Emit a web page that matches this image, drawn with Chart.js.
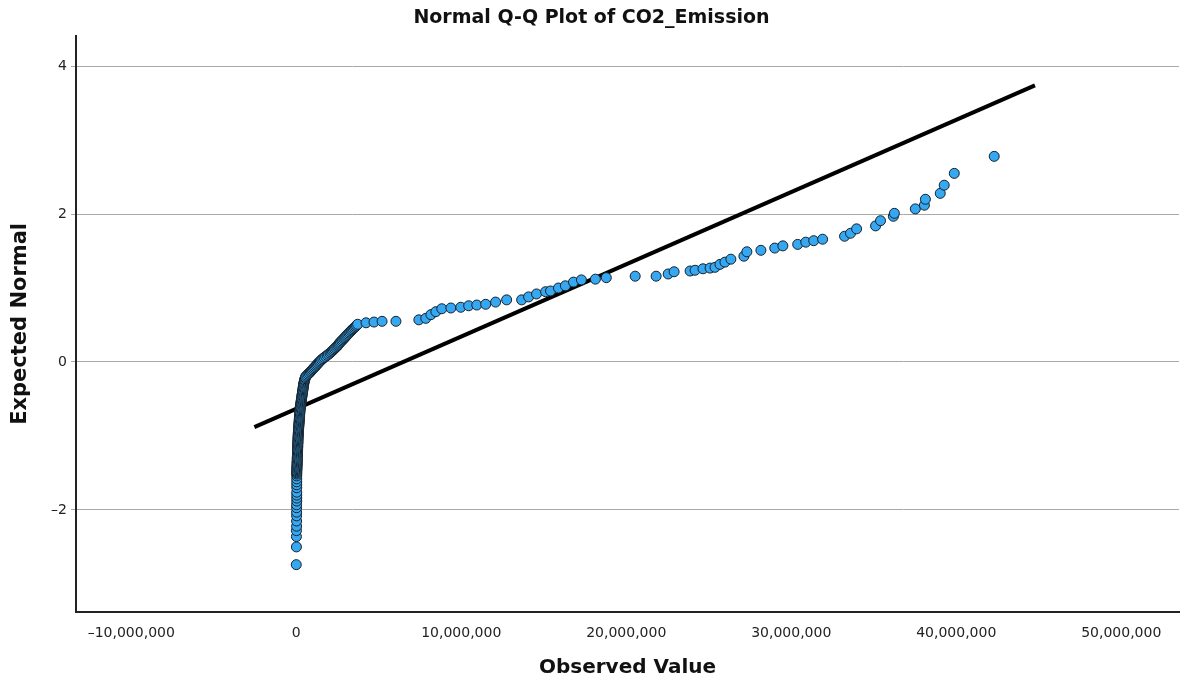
<!DOCTYPE html>
<html>
<head>
<meta charset="utf-8">
<title>Normal Q-Q Plot of CO2_Emission</title>
<script src="https://cdn.jsdelivr.net/npm/chart.js@4.4.1/dist/chart.umd.min.js"></script>
<style>
  html, body { margin: 0; padding: 0; background: #fff; }
  #wrap { width: 1185px; height: 686px; }
</style>
</head>
<body>
<div id="wrap"><canvas id="qqChart" width="1185" height="686"></canvas></div>
<script>
// observed CO2 emission, in millions
const observedM = [
  // lowest points, spread out
  0.00, 0.01, 0.01, 0.01, 0.02, 0.02, 0.02, 0.02, 0.02, 0.02,
  0.03, 0.03, 0.03, 0.03, 0.03, 0.03, 0.03, 0.03, 0.03,
  // dense column near zero
  0.03, 0.03, 0.03, 0.03, 0.04, 0.04, 0.04, 0.04, 0.05, 0.05,
  0.05, 0.05, 0.06, 0.06, 0.06, 0.06, 0.07, 0.07, 0.07, 0.07,
  0.08, 0.08, 0.08, 0.08, 0.09, 0.09, 0.09, 0.09, 0.10, 0.10,
  0.10, 0.10, 0.11, 0.11, 0.11, 0.12, 0.12, 0.12, 0.13, 0.13,
  0.14, 0.14, 0.15, 0.15, 0.16, 0.16, 0.17, 0.17, 0.18, 0.18,
  0.19, 0.19, 0.20, 0.20, 0.21, 0.21, 0.22, 0.22, 0.23, 0.24,
  0.24, 0.25, 0.26, 0.27, 0.28, 0.29, 0.30, 0.31, 0.32, 0.33,
  0.34, 0.35, 0.36, 0.37, 0.38, 0.39, 0.40, 0.41, 0.42, 0.43,
  0.44, 0.45, 0.46, 0.48, 0.49, 0.51, 0.53, 0.55, 0.58,
  // bend
  0.64, 0.71, 0.78, 0.85, 0.91, 0.97, 1.03, 1.09, 1.15, 1.21,
  1.27, 1.33, 1.40, 1.46, 1.53, 1.61, 1.69, 1.78, 1.87, 1.95,
  2.04, 2.11, 2.18, 2.25, 2.32, 2.39, 2.46, 2.52, 2.57, 2.62,
  2.68, 2.75, 2.81, 2.88, 2.94, 3.00, 3.06, 3.12, 3.19, 3.25,
  3.32, 3.38, 3.45, 3.52, 3.59, 3.65, 3.72,
  // upper tail
  4.23, 4.71, 5.20, 6.04, 7.43, 7.85, 8.16, 8.46, 8.82, 9.37,
  9.97, 10.45, 10.94, 11.48, 12.08, 12.75, 13.66, 14.08, 14.56, 15.11,
  15.41, 15.89, 16.31, 16.80, 17.28, 18.13, 18.79,
  20.54, 21.81, 22.54, 22.90, 23.87, 24.17, 24.65, 25.08, 25.38, 25.68,
  25.98, 26.34, 27.13, 27.31, 28.16, 29.00, 29.49, 30.39, 30.88, 31.36,
  31.90, 33.23, 33.59, 33.96, 35.11, 35.41, 36.19, 36.25, 37.52, 38.07,
  38.13, 39.03, 39.27, 39.88, 42.30
];

// expected normal quantiles
const expected = [
  -2.74, -2.50, -2.36, -2.28, -2.22, -2.15, -2.08, -2.03, -1.97, -1.93,
  -1.88, -1.84, -1.80, -1.76, -1.70, -1.66, -1.62, -1.58, -1.54,
  -1.515, -1.500, -1.485, -1.470, -1.455, -1.440, -1.425, -1.410, -1.395, -1.380,
  -1.365, -1.350, -1.335, -1.320, -1.305, -1.290, -1.275, -1.260, -1.245, -1.230,
  -1.215, -1.200, -1.185, -1.170, -1.155, -1.140, -1.125, -1.110, -1.095, -1.080,
  -1.065, -1.050, -1.035, -1.020, -1.005, -0.990, -0.975, -0.960, -0.945, -0.930,
  -0.915, -0.900, -0.885, -0.870, -0.855, -0.840, -0.825, -0.810, -0.795, -0.780,
  -0.765, -0.750, -0.735, -0.720, -0.705, -0.690, -0.675, -0.660, -0.645, -0.630,
  -0.615, -0.600, -0.585, -0.570, -0.555, -0.540, -0.525, -0.510, -0.495, -0.480,
  -0.465, -0.450, -0.435, -0.420, -0.405, -0.390, -0.375, -0.360, -0.345, -0.330,
  -0.315, -0.300, -0.285, -0.270, -0.255, -0.240, -0.225, -0.210, -0.195,
  -0.180, -0.165, -0.150, -0.135, -0.120, -0.105, -0.090, -0.075, -0.060, -0.045,
  -0.030, -0.015, 0.000, 0.015, 0.030, 0.045, 0.060, 0.075, 0.090, 0.105,
  0.120, 0.135, 0.150, 0.165, 0.180, 0.195, 0.210, 0.225, 0.240, 0.255,
  0.270, 0.285, 0.300, 0.315, 0.330, 0.345, 0.360, 0.375, 0.390, 0.405,
  0.420, 0.435, 0.450, 0.465, 0.480, 0.495, 0.510,
  0.53, 0.54, 0.55, 0.55, 0.57, 0.59, 0.64, 0.68, 0.72, 0.73,
  0.74, 0.76, 0.77, 0.78, 0.81, 0.84, 0.84, 0.88, 0.92, 0.95,
  0.96, 1.00, 1.03, 1.08, 1.11, 1.12, 1.14,
  1.16, 1.16, 1.19, 1.22, 1.23, 1.24, 1.26, 1.27, 1.28, 1.32,
  1.35, 1.39, 1.43, 1.49, 1.51, 1.54, 1.57, 1.59, 1.62, 1.64,
  1.66, 1.70, 1.74, 1.80, 1.84, 1.91, 1.97, 2.01, 2.07, 2.12,
  2.20, 2.28, 2.39, 2.55, 2.78
];

// reference line end points
const refLineX = [-2540000, 44770000];
const refLineY = [-0.88, 3.74];

const xTicks = [-10000000, 0, 10000000, 20000000, 30000000, 40000000, 50000000];
const yTicks = [-2, 0, 2, 4];

const points = observedM.map((v, i) => ({ x: v * 1000000, y: expected[i] }));
const linePts = refLineX.map((v, i) => ({ x: v, y: refLineY[i] }));

function fmt(v) {
  return Math.round(v).toLocaleString('en-US').replace('-', '\u2013');
}

let ctx = document.getElementById('qqChart').getContext('2d');
let qqChart = new Chart(ctx, {
  type: 'scatter',
  data: {
    datasets: [{
      label: 'CO2_Emission',
      data: points,
      order: 0,
      pointRadius: 5,
      pointBackgroundColor: '#36a8f2',
      pointBorderColor: '#15202b',
      pointBorderWidth: 1,
      showLine: false
    }, {
      type: 'line',
      label: 'Reference',
      data: linePts,
      order: 1,
      borderColor: '#000',
      borderWidth: 4,
      pointRadius: 0,
      fill: false
    }]
  },
  options: {
    responsive: false,
    animation: false,
    layout: { padding: { left: 0, right: 2, top: 0, bottom: 0 } },
    plugins: {
      legend: { display: false },
      tooltip: { enabled: false },
      title: {
        display: true,
        text: 'Normal Q-Q Plot of CO2_Emission',
        color: '#111',
        font: { family: 'DejaVu Sans', size: 19, weight: 'bold' },
        padding: { top: 7, bottom: 6 }
      }
    },
    scales: {
      x: {
        type: 'linear',
        min: -13350000,
        max: 53500000,
        afterBuildTicks: (scale) => { scale.ticks = xTicks.map(v => ({ value: v })); },
        afterFit: (scale) => { scale.height = 74; },
        grid: { display: false },
        border: { display: true, color: '#222', width: 2 },
        ticks: {
          callback: (v) => fmt(v),
          color: '#222',
          font: { family: 'DejaVu Sans', size: 14 },
          padding: 5,
          maxRotation: 0
        },
        title: {
          display: true,
          text: 'Observed Value',
          color: '#111',
          font: { family: 'DejaVu Sans', size: 20, weight: 'bold' },
          padding: { top: 4, bottom: 6 }
        }
      },
      y: {
        type: 'linear',
        min: -3.38,
        max: 4.41,
        afterBuildTicks: (scale) => { scale.ticks = yTicks.map(v => ({ value: v })); },
        afterFit: (scale) => { scale.width = 76; },
        grid: { color: '#a8a8a8', lineWidth: 1, tickLength: 5, drawTicks: true },
        border: { display: true, color: '#222', width: 2 },
        ticks: {
          callback: (v) => fmt(v),
          color: '#222',
          font: { family: 'DejaVu Sans', size: 14 },
          padding: 4
        },
        title: {
          display: true,
          text: 'Expected Normal',
          color: '#111',
          font: { family: 'DejaVu Sans', size: 21, weight: 'bold' },
          padding: { top: 8, bottom: 4 }
        }
      }
    }
  }
});
</script>
</body>
</html>
